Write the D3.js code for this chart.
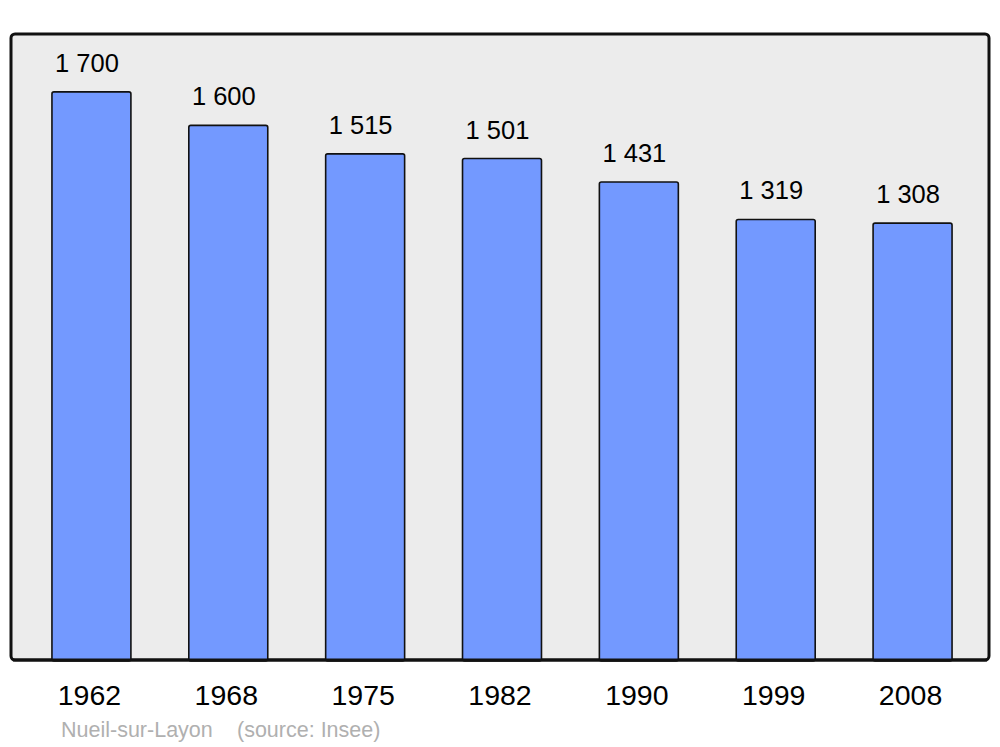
<!DOCTYPE html>
<html>
<head>
<meta charset="utf-8">
<script src="https://cdn.jsdelivr.net/npm/d3@7"></script>
<style>
  body { margin: 0; background: #fff; }
  svg { font-family: "Liberation Sans", Arial, sans-serif; }
</style>
</head>
<body>
<svg id="chart"></svg>
<script>
// data
const years = ['1962', '1968', '1975', '1982', '1990', '1999', '2008'];
const population = [1700, 1600, 1515, 1501, 1431, 1319, 1308];
const townName = 'Nueil-sur-Layon';
const sourceNote = '(source: Insee)';

const width = 1000;
const height = 747;
const panel = { left: 11, top: 34, right: 989, bottom: 660 };

const svg = d3.select('#chart')
  .attr('width', width)
  .attr('height', height);

// scales
const x = d3.scaleBand()
  .domain(years)
  .range([23, 981])
  .paddingInner(0.423)
  .paddingOuter(0.2115);

const y = d3.scaleLinear()
  .domain([0, 1870])
  .range([panel.bottom, panel.top]);

// background panel
svg.append('rect')
  .attr('x', panel.left)
  .attr('y', panel.top)
  .attr('width', panel.right - panel.left)
  .attr('height', panel.bottom - panel.top)
  .attr('rx', 4)
  .attr('fill', '#ececec')
  .attr('stroke', '#111')
  .attr('stroke-width', 3);

const data = years.map((yr, i) => ({ year: yr, value: population[i] }));

// bars
svg.append('g').selectAll('rect')
  .data(data)
  .enter().append('rect')
    .attr('x', d => x(d.year))
    .attr('y', d => y(d.value) + 1)
    .attr('width', x.bandwidth())
    .attr('height', d => y(0) - y(d.value))
    .attr('rx', 2)
    .attr('fill', '#7399ff')
    .attr('stroke', '#111')
    .attr('stroke-width', 1.6);

// redraw bottom edge of panel over bar ends
svg.append('line')
  .attr('x1', panel.left + 2)
  .attr('x2', panel.right - 2)
  .attr('y1', panel.bottom)
  .attr('y2', panel.bottom)
  .attr('stroke', '#111')
  .attr('stroke-width', 3);

// value labels
const fmt = v => d3.format(',')(v).replace(',', ' ');
svg.append('g').selectAll('text')
  .data(data)
  .enter().append('text')
    .attr('x', d => x(d.year) + x.bandwidth() / 2 - 4.5)
    .attr('y', d => y(d.value) - 19)
    .attr('text-anchor', 'middle')
    .style('font-size', '25.5px')
    .attr('fill', '#000')
    .text(d => fmt(d.value));

// year labels
svg.append('g').selectAll('text')
  .data(data)
  .enter().append('text')
    .attr('x', d => x(d.year) + x.bandwidth() / 2 - 2)
    .attr('y', 705)
    .attr('text-anchor', 'middle')
    .style('font-size', '28.5px')
    .attr('fill', '#000')
    .text(d => d.year);

// source line
svg.append('text')
  .attr('x', 61)
  .attr('y', 737)
  .style('font-size', '21.5px')
  .attr('fill', '#b0b0b0')
  .text(townName);

svg.append('text')
  .attr('x', 237)
  .attr('y', 737)
  .style('font-size', '21.5px')
  .attr('fill', '#b0b0b0')
  .text(sourceNote);
</script>
</body>
</html>
